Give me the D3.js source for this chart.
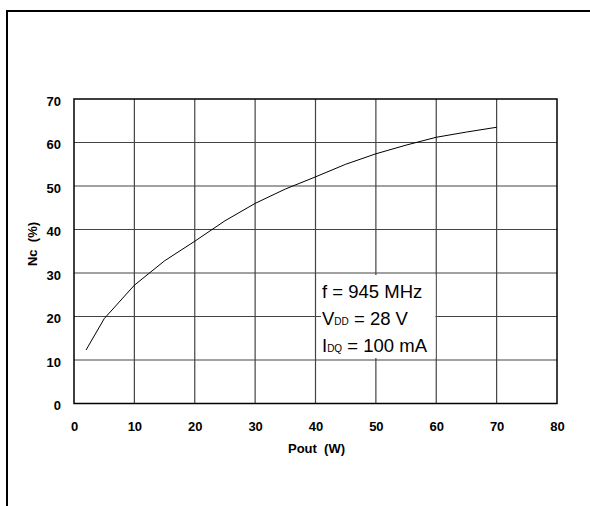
<!DOCTYPE html>
<html>
<head>
<meta charset="utf-8">
<script src="https://cdn.jsdelivr.net/npm/d3@7"></script>
<style>
  html, body { margin: 0; padding: 0; background: #fff; }
  svg { display: block; }
  text { font-family: "Liberation Sans", Arial, sans-serif; white-space: pre; }
</style>
</head>
<body>
<svg id="chart" width="590" height="506"></svg>
<script>
// Data
const poutW = [2, 5, 10, 15, 20, 25, 30, 35, 40, 45, 50, 55, 60, 65, 70];
const efficiencyPct = [12.3, 19.5, 27.2, 32.8, 37.3, 42.0, 46.0, 49.3, 52.1, 55.0, 57.4, 59.4, 61.2, 62.4, 63.5];
const xTicks = [0, 10, 20, 30, 40, 50, 60, 70, 80];
const yTicks = [0, 10, 20, 30, 40, 50, 60, 70];
const xLabel = "Pout  (W)";
const yLabel = "Nc  (%)";

const svg = d3.select("#chart");
const L = 74, R = 557, T = 99, B = 403.5;

const x = d3.scaleLinear().domain([0, 80]).range([L, R]);
const y = d3.scaleLinear().domain([0, 70]).range([B, T]);

// outer frame
svg.append("rect").attr("x", 7).attr("y", 11).attr("width", 700).attr("height", 700)
  .attr("fill", "none").attr("stroke", "#000").attr("stroke-width", 2);

// grid
const g = svg.append("g");
g.selectAll("line.vx").data(xTicks.slice(1, -1)).join("line")
  .attr("x1", d => x(d)).attr("x2", d => x(d)).attr("y1", T).attr("y2", B)
  .attr("stroke", "#444").attr("stroke-width", 1.2);
g.selectAll("line.hy").data(yTicks.slice(1, -1)).join("line")
  .attr("y1", d => y(d)).attr("y2", d => y(d)).attr("x1", L).attr("x2", R)
  .attr("stroke", "#444").attr("stroke-width", 1.2);

// curve
svg.append("path")
  .datum(poutW.map((d, i) => [d, efficiencyPct[i]]))
  .attr("fill", "none").attr("stroke", "#000").attr("stroke-width", 1)
  .attr("d", d3.line().x(d => x(d[0])).y(d => y(d[1])));

// annotation box
const box = svg.append("g");
box.append("rect").attr("x", 321).attr("y", 275).attr("width", x(60) - 321 - 0.8).attr("height", 83)
  .attr("fill", "#fff");
const tx = 322, fs = 18.5;
box.append("text").attr("x", tx).attr("y", 298).attr("font-size", fs).text("f = 945 MHz");
const t2 = box.append("text").attr("x", tx).attr("y", 325).attr("font-size", fs);
t2.append("tspan").text("V");
t2.append("tspan").attr("font-size", 10).text("DD");
t2.append("tspan").text(" = 28 V");
const t3 = box.append("text").attr("x", tx).attr("y", 352).attr("font-size", fs);
t3.append("tspan").text("I");
t3.append("tspan").attr("font-size", 10).text("DQ");
t3.append("tspan").text(" = 100 mA");

// plot border
svg.append("rect").attr("x", L).attr("y", T).attr("width", R - L).attr("height", B - T)
  .attr("fill", "none").attr("stroke", "#000").attr("stroke-width", 1.5);

// axes (labels only)
const xAxis = svg.append("g").attr("transform", `translate(0,${B})`)
  .call(d3.axisBottom(x).tickValues(xTicks).tickSize(0).tickPadding(18).tickFormat(d3.format("d")));
const yAxis = svg.append("g").attr("transform", `translate(${L},0)`)
  .call(d3.axisLeft(y).tickValues(yTicks).tickSize(0).tickPadding(13).tickFormat(d3.format("d")));
[xAxis, yAxis].forEach(a => {
  a.select(".domain").remove();
  a.selectAll("text").attr("font-family", "Liberation Sans, Arial, sans-serif")
    .attr("font-size", 13).attr("font-weight", "bold").attr("fill", "#000");
});
yAxis.selectAll("text").attr("dy", "0.48em");

svg.append("text").attr("x", 316.5).attr("y", 453).attr("text-anchor", "middle")
  .attr("font-size", 13).attr("font-weight", "bold").text(xLabel);
svg.append("text").attr("transform", "translate(37,244) rotate(-90)").attr("text-anchor", "middle")
  .attr("font-size", 13).attr("font-weight", "bold").text(yLabel);
</script>
</body>
</html>
